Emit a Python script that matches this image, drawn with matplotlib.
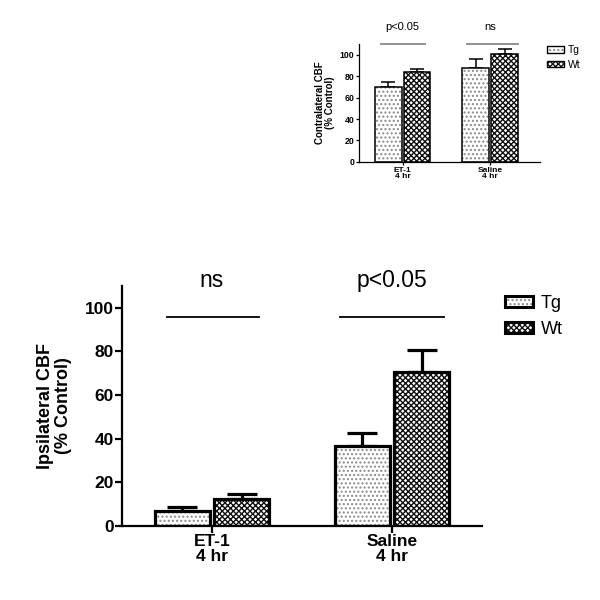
import matplotlib
matplotlib.use("Agg")
import matplotlib.pyplot as plt
import numpy as np
from matplotlib.patches import Patch
from matplotlib.legend_handler import HandlerTuple

plt.rcParams['font.family'] = ['Liberation Sans', 'DejaVu Sans']
plt.rcParams['hatch.linewidth'] = 1.0

categories = ["ET-1\n4 hr", "Saline\n4 hr"]
series = ["Tg", "Wt"]

# Main chart: ipsilateral CBF
ipsi_tg = [7.0, 36.5]
ipsi_tg_err = [1.5, 6.0]
ipsi_wt = [12.5, 70.5]
ipsi_wt_err = [2.0, 10.0]
ipsi_sig = ["ns", "p<0.05"]

# Inset chart: contralateral CBF
contra_tg = [70.0, 88.0]
contra_tg_err = [4.5, 8.5]
contra_wt = [84.5, 101.0]
contra_wt_err = [2.5, 4.5]
contra_sig = ["p<0.05", "ns"]

yticks = [0, 20, 40, 60, 80, 100]

TG_HATCH = '....'
WT_HATCH = 'xxxxxx'
TG_HCOL = '#8a8a8a'
WT_HCOL = '#111111'

fig = plt.figure(figsize=(6, 6), dpi=100)


def draw(ax, tg, tge, wt, wte, sig, sig_y, sig_spans, text_y, lw, cap, elw,
         tickfs, xtickfs, labfs, sigfs, ylabel, sigcolor, siglw, spinelw, ticklen):
    x = np.arange(len(categories))
    w = 0.305
    off = 0.165
    for vals, errs, dx, hatch, hcol in [(tg, tge, -off, TG_HATCH, TG_HCOL),
                                        (wt, wte, off, WT_HATCH, WT_HCOL)]:
        ax.bar(x + dx, vals, w, color='white', edgecolor=hcol, hatch=hatch,
               linewidth=0, zorder=2)
        ax.bar(x + dx, vals, w, fill=False, edgecolor='black', linewidth=lw,
               zorder=3)
        ax.errorbar(x + dx, vals, yerr=[np.zeros(len(vals)), errs], fmt='none',
                    ecolor='black', elinewidth=elw, capsize=cap, capthick=elw,
                    zorder=1)
    for i, (s, (a, b)) in enumerate(zip(sig, sig_spans)):
        ax.plot([i + a, i + b], [sig_y, sig_y], color=sigcolor, lw=siglw,
                clip_on=False, zorder=4)
        ax.text(i, text_y, s, ha='center', va='center', fontsize=sigfs)
    ax.set_xticks(x)
    ax.set_xticklabels(categories, fontweight='bold', fontsize=xtickfs,
                       linespacing=0.95)
    ax.set_yticks(yticks)
    ax.set_yticklabels([str(v) for v in yticks], fontweight='bold',
                       fontsize=tickfs)
    ax.set_ylim(0, 110)
    ax.set_ylabel(ylabel, fontweight='bold', fontsize=labfs, linespacing=1.1)
    for s in ['top', 'right']:
        ax.spines[s].set_visible(False)
    for s in ['left', 'bottom']:
        ax.spines[s].set_linewidth(spinelw)
    ax.tick_params(direction='out', width=spinelw, length=ticklen, pad=1)


# Main axes
ax = fig.add_axes([122 / 600, 1 - 526 / 600, 360 / 600, 240 / 600])
draw(ax, ipsi_tg, ipsi_tg_err, ipsi_wt, ipsi_wt_err, ipsi_sig, 96,
     [(-0.25, 0.26), (-0.29, 0.29)], 112.5, 2.3, 11, 2.3,
     12.5, 12.5, 13, 16.5, "Ipsilateral CBF\n(% Control)", 'black', 1.3, 1.6, 5)
ax.set_xlim(-0.5, 1.5)
ax.yaxis.labelpad = 9

# Inset axes
ax2 = fig.add_axes([359 / 600, 1 - 161.7 / 600, 181 / 600, 117.4 / 600])
draw(ax2, contra_tg, contra_tg_err, contra_wt, contra_wt_err, contra_sig, 110,
     [(-0.25, 0.26), (-0.27, 0.32)], 126.5, 1.1, 5, 1.1,
     6.3, 6, 7, 8, "Contralateral CBF\n(% Control)", '#888888', 1.3, 0.9, 2.5)
ax2.set_xlim(-0.5, 1.57)
ax2.yaxis.labelpad = 3


def handles(lw):
    hs = []
    for hatch, hcol in [(TG_HATCH, TG_HCOL), (WT_HATCH, WT_HCOL)]:
        p1 = Patch(facecolor='white', edgecolor=hcol, hatch=hatch, linewidth=0)
        p2 = Patch(fill=False, edgecolor='black', linewidth=lw)
        hs.append((p1, p2))
    return hs


fig.legend(handles(2.2), series, handler_map={tuple: HandlerTuple(ndivide=1, pad=0)},
           loc='upper left', bbox_to_anchor=(505 / 600, 1 - 295 / 600),
           frameon=False, fontsize=13, handlelength=1.55, handleheight=0.6,
           handletextpad=0.45, labelspacing=0.5, borderpad=0, borderaxespad=0)

fig.legend(handles(1.0), series, handler_map={tuple: HandlerTuple(ndivide=1, pad=0)},
           loc='upper left', bbox_to_anchor=(547 / 600, 1 - 45 / 600),
           frameon=False, fontsize=7.5, handlelength=1.6, handleheight=0.6,
           handletextpad=0.4, labelspacing=0.45, borderpad=0, borderaxespad=0)

fig.savefig("out.png", dpi=100)
